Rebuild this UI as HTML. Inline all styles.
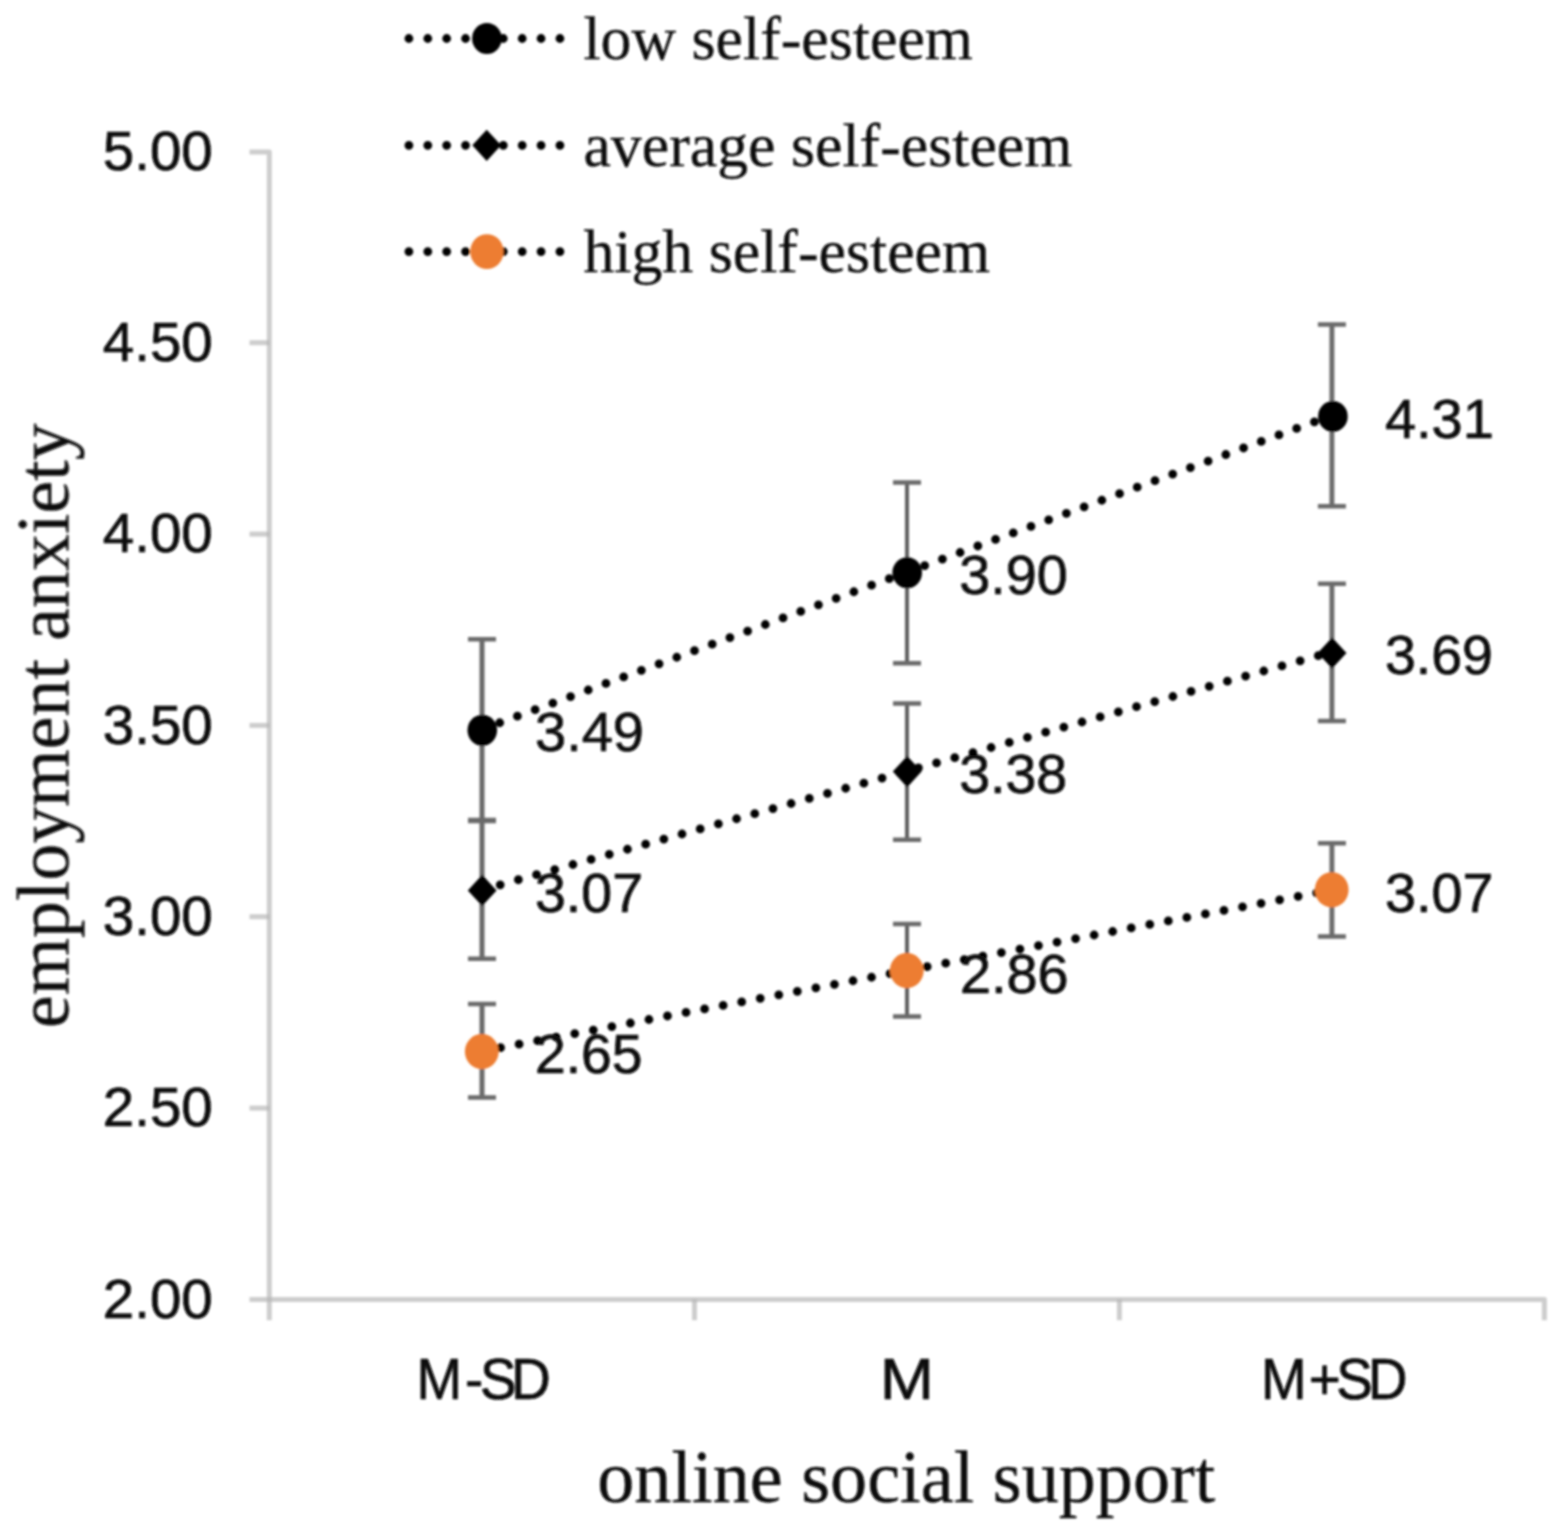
<!DOCTYPE html>
<html lang="en"><head><meta charset="utf-8">
<style>
html,body{margin:0;padding:0;background:#fff;}
body{width:1561px;height:1534px;overflow:hidden;}
svg{display:block;}
.sans{font-family:"Liberation Sans", Arial, sans-serif;font-size:55.8px;fill:#0a0a0a;stroke:#0a0a0a;stroke-width:0.7;}
.serif{font-family:"Liberation Serif", "Times New Roman", serif;fill:#0d0d0d;stroke:#0d0d0d;stroke-width:0.3;}
.dot{stroke:#000;stroke-width:8.8;stroke-linecap:round;stroke-dasharray:0 18.88;fill:none;}
.eb{stroke:#6a6a6a;stroke-width:4.5;fill:none;}
.ax path{stroke:#b5b5b5;stroke-width:5;stroke-opacity:0.68;fill:none;stroke-linejoin:round;}
</style></head><body>
<svg width="1561" height="1534" viewBox="0 0 1561 1534">
<defs><filter id="bl" x="0" y="0" width="1561" height="1534" filterUnits="userSpaceOnUse"><feGaussianBlur stdDeviation="1.25"/></filter></defs>
<rect width="1561" height="1534" fill="#ffffff"/>
<g filter="url(#bl)">

<g class="ax">
<path d="M249.5 151.9 H269.3 V1320.2"/>
<path d="M249.5 1299.4 H1544.4 V1320.2"/>
<path d="M249.5 342.7 H269.5"/>
<path d="M249.5 534.1 H269.5"/>
<path d="M249.5 725.4 H269.5"/>
<path d="M249.5 916.7 H269.5"/>
<path d="M249.5 1108.1 H269.5"/>
<path d="M694.5 1299.4 V1320.2"/>
<path d="M1119.4 1299.4 V1320.2"/>
</g>
<text class="sans" x="102.8" y="169.5" textLength="110" lengthAdjust="spacingAndGlyphs">5.00</text>
<text class="sans" x="102.8" y="360.8" textLength="110" lengthAdjust="spacingAndGlyphs">4.50</text>
<text class="sans" x="102.8" y="552.2" textLength="110" lengthAdjust="spacingAndGlyphs">4.00</text>
<text class="sans" x="102.8" y="743.5" textLength="110" lengthAdjust="spacingAndGlyphs">3.50</text>
<text class="sans" x="102.8" y="934.8" textLength="110" lengthAdjust="spacingAndGlyphs">3.00</text>
<text class="sans" x="102.8" y="1126.2" textLength="110" lengthAdjust="spacingAndGlyphs">2.50</text>
<text class="sans" x="102.8" y="1317.5" textLength="110" lengthAdjust="spacingAndGlyphs">2.00</text>
<text class="sans" x="433.86 484.47 499.91 532.61" y="1398.9" style="font-size:57px" transform="scale(0.96 1)">M-SD</text>
<text class="sans" x="879.75" y="1398.9" style="font-size:57px" textLength="54.29" lengthAdjust="spacingAndGlyphs">M</text>
<text class="sans" x="1313.55 1363.27 1391.99 1424.90" y="1398.9" style="font-size:57px" transform="scale(0.96 1)">M+SD</text>
<text class="serif" x="906.3" y="1501.8" font-size="74.2" text-anchor="middle">online social support</text>
<text class="serif" transform="translate(68.3 725.8) rotate(-90)" font-size="73.8" text-anchor="middle">employment anxiety</text>
<path class="dot" d="M408.9 38.5 H570"/>
<text class="serif" x="583.4" y="59.0" font-size="61.8">low self-esteem</text>
<path class="dot" d="M408.9 145.3 H570"/>
<text class="serif" x="583.4" y="165.8" font-size="61.8">average self-esteem</text>
<path class="dot" d="M408.9 251.6 H570"/>
<text class="serif" x="583.4" y="272.1" font-size="61.8">high self-esteem</text>
<ellipse cx="486.9" cy="38.5" rx="14.8" ry="15.5" fill="#000"/>
<path d="M472.3 145.3 L486.7 129.7 L501.1 145.3 L486.7 160.9 Z" fill="#000"/>
<ellipse cx="486.9" cy="251.6" rx="16.7" ry="17.4" fill="#ed7d31"/>
<path class="eb" style="stroke-width:5.0;stroke:#6a6a6a" d="M482.0 639.3 V820.1"/>
<path class="eb" d="M468.0 639.3 H496.0 M468.0 820.1 H496.0"/>
<path class="eb" style="stroke-width:4.0;stroke:#606060" d="M907.0 482.4 V663.2"/>
<path class="eb" d="M893.0 482.4 H921.0 M893.0 663.2 H921.0"/>
<path class="eb" style="stroke-width:4.9;stroke:#6a6a6a" d="M1331.9 324.5 V506.3"/>
<path class="eb" d="M1317.9 324.5 H1345.9 M1317.9 506.3 H1345.9"/>
<path class="eb" style="stroke-width:5.0;stroke:#6a6a6a" d="M482.0 821.1 V958.8"/>
<path class="eb" d="M468.0 821.1 H496.0 M468.0 958.8 H496.0"/>
<path class="eb" style="stroke-width:4.0;stroke:#606060" d="M907.0 703.6 V839.8"/>
<path class="eb" d="M893.0 703.6 H921.0 M893.0 839.8 H921.0"/>
<path class="eb" style="stroke-width:4.9;stroke:#6a6a6a" d="M1331.9 583.8 V721.0"/>
<path class="eb" d="M1317.9 583.8 H1345.9 M1317.9 721.0 H1345.9"/>
<path class="eb" style="stroke-width:5.0;stroke:#6a6a6a" d="M482.0 1004.0 V1097.4"/>
<path class="eb" d="M468.0 1004.0 H496.0 M468.0 1097.4 H496.0"/>
<path class="eb" style="stroke-width:4.0;stroke:#606060" d="M907.0 924.0 V1016.4"/>
<path class="eb" d="M893.0 924.0 H921.0 M893.0 1016.4 H921.0"/>
<path class="eb" style="stroke-width:4.9;stroke:#6a6a6a" d="M1331.9 843.3 V936.6"/>
<path class="eb" d="M1317.9 843.3 H1345.9 M1317.9 936.6 H1345.9"/>
<path class="dot" d="M482.0 729.3 L907.0 572.1 L1331.9 415.4"/>
<path class="dot" d="M482.0 889.9 L907.0 771.1 L1331.9 651.9"/>
<path class="dot" d="M482.0 1051.2 L907.0 970.5 L1331.9 889.9"/>
<ellipse cx="482.3" cy="730.2" rx="14.8" ry="15.5" fill="#000"/>
<ellipse cx="907.2" cy="572.8" rx="14.8" ry="15.5" fill="#000"/>
<ellipse cx="1332.9" cy="416.4" rx="14.8" ry="15.5" fill="#000"/>
<path d="M467.8 890.4 L482.2 874.8 L496.6 890.4 L482.2 906.0 Z" fill="#000"/>
<path d="M892.8 771.6 L907.2 756.0 L921.6 771.6 L907.2 787.2 Z" fill="#000"/>
<path d="M1317.7 653.0 L1332.1 637.4 L1346.5 653.0 L1332.1 668.6 Z" fill="#000"/>
<ellipse cx="481.8" cy="1051.6" rx="16.9" ry="17.6" fill="#ed7d31"/>
<ellipse cx="906.8" cy="970.6" rx="16.9" ry="17.6" fill="#ed7d31"/>
<ellipse cx="1331.7" cy="889.8" rx="16.9" ry="17.6" fill="#ed7d31"/>
<text class="sans" x="535.0" y="751.2" textLength="109" lengthAdjust="spacingAndGlyphs">3.49</text>
<text class="sans" x="959.2" y="594.3" textLength="108.5" lengthAdjust="spacingAndGlyphs">3.90</text>
<text class="sans" x="1384.9" y="438.0" textLength="109" lengthAdjust="spacingAndGlyphs">4.31</text>
<text class="sans" x="535.0" y="911.9" textLength="108" lengthAdjust="spacingAndGlyphs">3.07</text>
<text class="sans" x="959.2" y="793.3" textLength="108" lengthAdjust="spacingAndGlyphs">3.38</text>
<text class="sans" x="1384.9" y="673.7" textLength="108" lengthAdjust="spacingAndGlyphs">3.69</text>
<text class="sans" x="535.0" y="1072.9" textLength="107.5" lengthAdjust="spacingAndGlyphs">2.65</text>
<text class="sans" x="959.9" y="992.9" textLength="108.6" lengthAdjust="spacingAndGlyphs">2.86</text>
<text class="sans" x="1385.1" y="911.9" textLength="108.3" lengthAdjust="spacingAndGlyphs">3.07</text>
</g></svg></body></html>
